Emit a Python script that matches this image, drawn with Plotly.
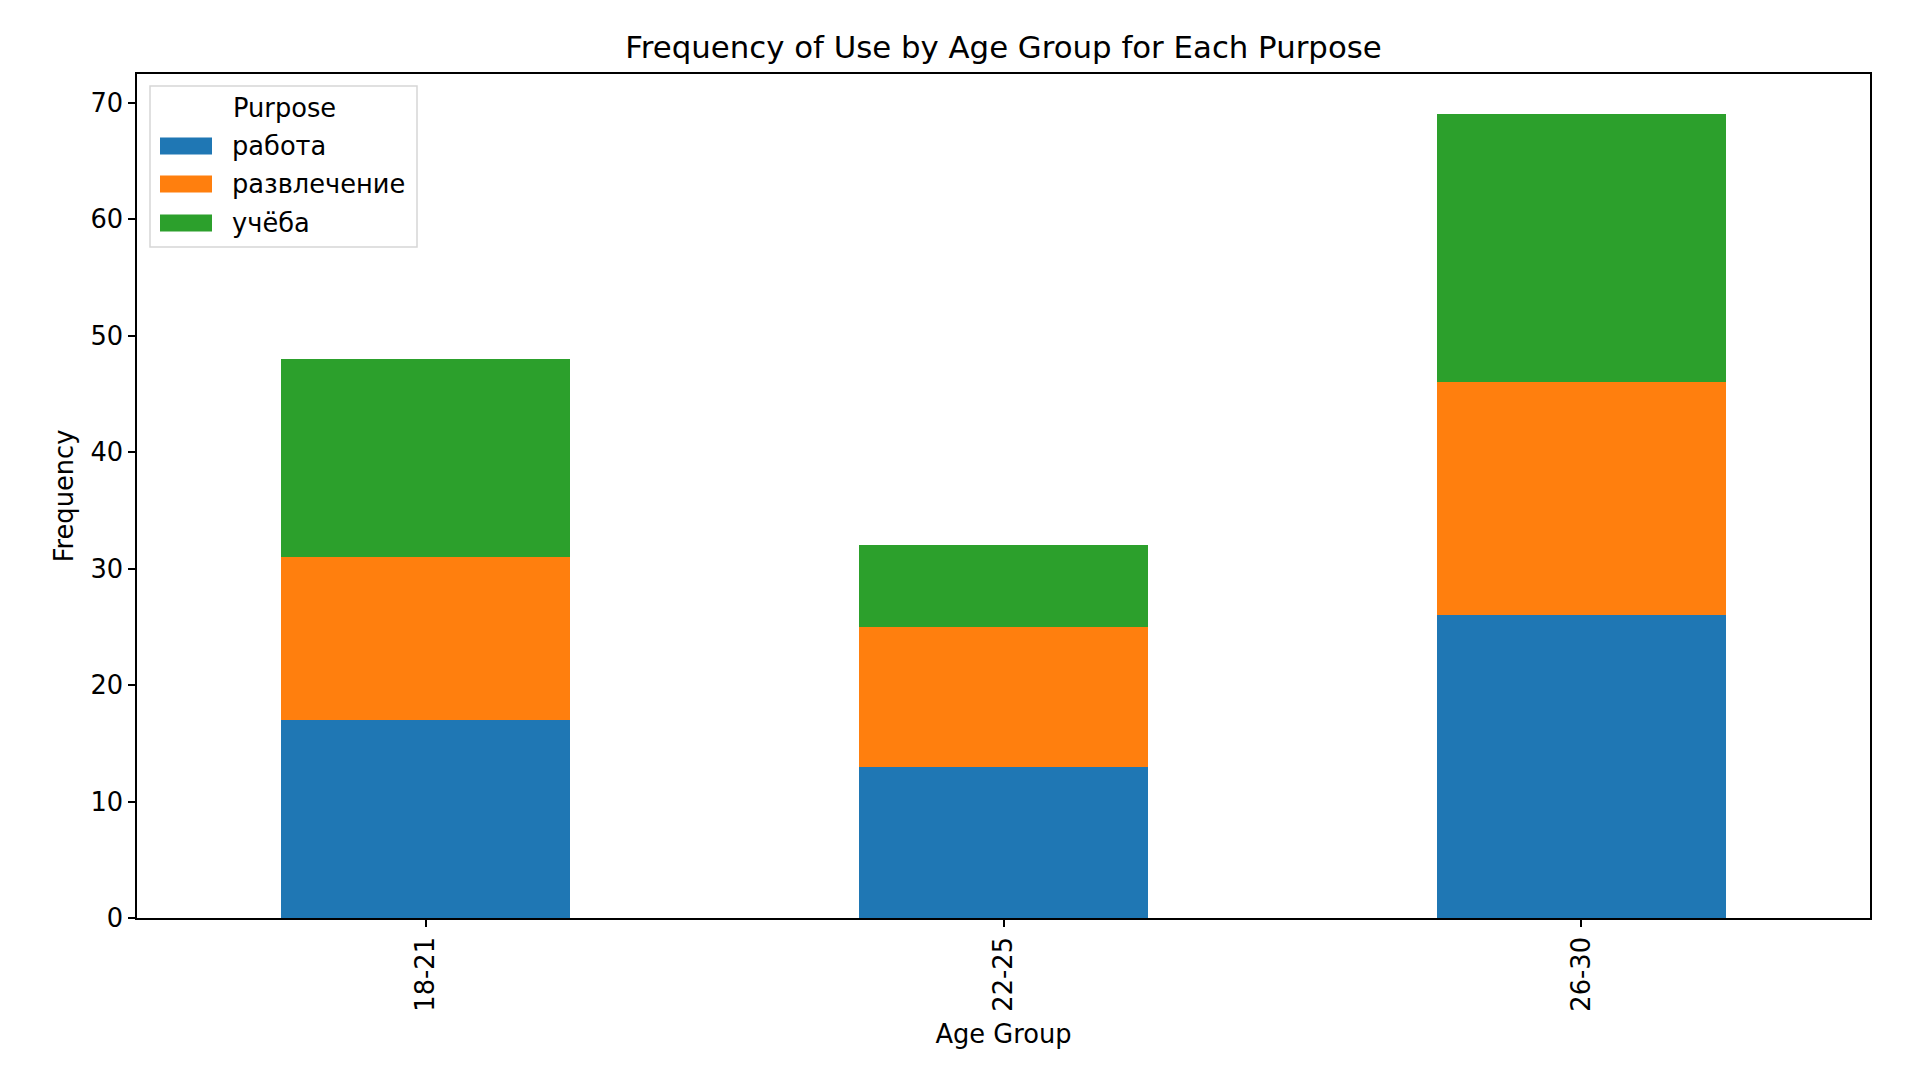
import plotly.graph_objects as go

age_groups = ["18-21", "22-25", "26-30"]
purposes = ["работа", "развлечение", "учёба"]
rabota = [17, 13, 26]
razvlechenie = [14, 12, 20]
ucheba = [17, 7, 23]
colors = ["#1f77b4", "#ff7f0e", "#2ca02c"]

series = [rabota, razvlechenie, ucheba]

W, H = 1921, 1081
L, R, T, B = 137, 51, 74, 163
PW, PH = W - L - R, H - T - B


def px(x):
    return (x - L) / PW


def py(y):
    return (H - B - y) / PH


fig = go.Figure()
for name, vals, col in zip(purposes, series, colors):
    fig.add_trace(go.Bar(
        x=list(range(len(age_groups))), y=vals, name=name,
        marker=dict(color=col, line=dict(width=0)), width=0.5,
        showlegend=False,
    ))

font = "DejaVu Sans"
fs = 25.7

# legend drawn as layout decorations (box, patches, labels)
shapes = [dict(type="rect", xref="paper", yref="paper",
               x0=px(150), x1=px(417), y0=py(247), y1=py(86),
               line=dict(color="#d6d6d6", width=1.5),
               fillcolor="rgba(255,255,255,0.8)", layer="above")]
annotations = [dict(text="Purpose", xref="paper", yref="paper",
                    x=px(284), y=py(108), xanchor="center", yanchor="middle",
                    showarrow=False, font=dict(size=fs, family=font, color="black"))]
row_y = [146, 184, 223]
for name, col, yc in zip(purposes, colors, row_y):
    shapes.append(dict(type="rect", xref="paper", yref="paper",
                       x0=px(160), x1=px(212), y0=py(yc + 8.5), y1=py(yc - 8.5),
                       line=dict(width=0), fillcolor=col, layer="above"))
    annotations.append(dict(text=name, xref="paper", yref="paper",
                            x=px(230), y=py(yc), xanchor="left", yanchor="middle",
                            showarrow=False,
                            font=dict(size=fs, family=font, color="black")))

fig.update_layout(
    barmode="stack",
    width=W, height=H,
    margin=dict(l=L, r=R, t=T, b=B),
    paper_bgcolor="white", plot_bgcolor="white",
    font=dict(family=font, size=fs, color="black"),
    title=dict(text="Frequency of Use by Age Group for Each Purpose",
               x=0.5 * (L + W - R) / W, xanchor="center",
               y=1 - 47 / H, yanchor="middle", yref="container",
               font=dict(size=30.8, family=font, color="black")),
    showlegend=False,
    shapes=shapes,
    annotations=annotations,
)
fig.update_xaxes(
    range=[-0.5, 2.5], tickmode="array", tickvals=list(range(len(age_groups))),
    ticktext=age_groups, tickangle=-90,
    tickfont=dict(size=fs, family=font, color="black"),
    showline=True, linecolor="black", linewidth=1.5, mirror=True,
    ticks="outside", ticklen=7, tickwidth=1.5, tickcolor="black",
    showgrid=False, zeroline=False,
    title=dict(text="Age Group", standoff=14,
               font=dict(size=fs, family=font, color="black")),
)
fig.update_yaxes(
    range=[0, 72.45], tickmode="array", tickvals=[0, 10, 20, 30, 40, 50, 60, 70],
    tickfont=dict(size=fs, family=font, color="black"),
    showline=True, linecolor="black", linewidth=1.5, mirror=True,
    ticks="outside", ticklen=7, tickwidth=1.5, tickcolor="black",
    showgrid=False, zeroline=False,
    title=dict(text="Frequency", standoff=9,
               font=dict(size=fs, family=font, color="black")),
)

fig.write_html("out.html")
